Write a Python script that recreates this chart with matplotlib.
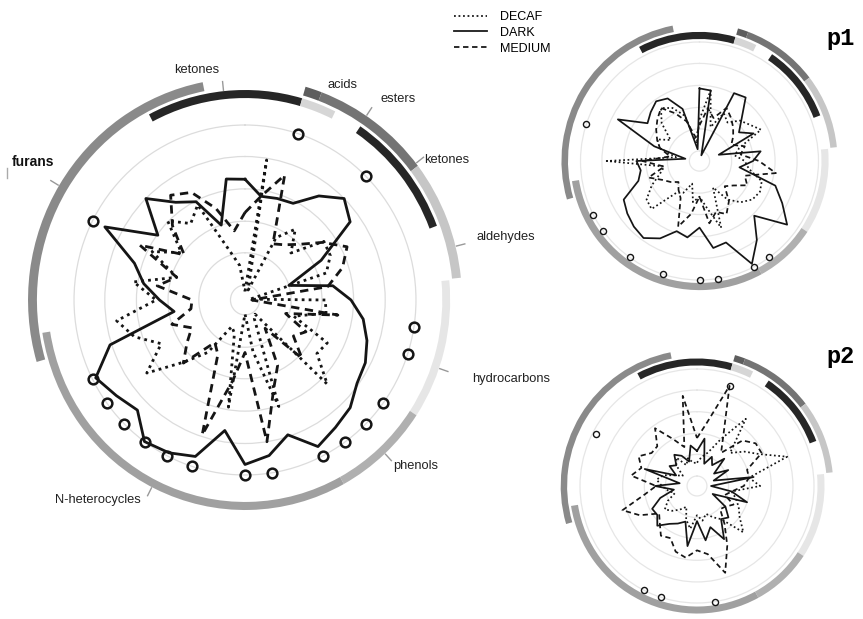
import numpy as np
import matplotlib.pyplot as plt
from matplotlib.lines import Line2D

plt.rcParams['font.family'] = ['Liberation Sans', 'DejaVu Sans']

W, H = 863, 619
N_VARS = 40

# compound groups on the rim, spans in variable-index units
group_label = ['furans', 'acids', 'esters', 'aldehydes', 'ketones', '',
               'ketones', 'hydrocarbons', 'phenols', 'N-heterocycles']
group_start = [28.2, 1.8, 2.3, 5.87, 36.9, 1.8, 3.8, 9.4, 13.7, 16.8]
group_stop = [38.75, 2.3, 5.87, 9.36, 41.8, 2.9, 7.7, 13.7, 16.8, 29.0]
group_track = ['outer'] * 4 + ['inner'] * 6
group_color = ['#8a8a8a', '#5e5e5e', '#747474', '#c6c6c6', '#262626',
               '#d6d6d6', '#262626', '#e6e6e6', '#b0b0b0', '#a0a0a0']

# main profile
main_decaf = [0.05, 0.81, 0.06, 0.40, 0.50, 0.38, 0.57, 0.56, 0.50, 0.03,
              0.47, 0.48, 0.30, 0.54, 0.52, 0.68, 0.10, 0.12, 0.64, 0.30,
              0.08, 0.62, 0.20, 0.17, 0.37, 0.50, 0.71, 0.55, 0.68, 0.76,
              0.52, 0.66, 0.42, 0.61, 0.46, 0.64, 0.54, 0.61, 0.30, 0.20]
main_dark = [0.69, 0.60, 0.61, 0.62, 0.735, 0.82, 0.76, 0.50, 0.27, 0.52,
             0.62, 0.70, 0.75, 0.79, 0.81, 0.87, 0.90, 0.94, 0.81, 0.90,
             0.94, 0.755, 0.94, 0.98, 1.00, 0.89, 0.93, 0.98, 0.83, 0.42,
             0.50, 0.60, 0.68, 0.92, 0.63, 0.82, 0.69, 0.63, 0.45, 0.70]
main_medium = [0.50, 0.60, 0.75, 0.36, 0.39, 0.45, 0.56, 0.67, 0.60, 0.49,
               0.04, 0.55, 0.25, 0.40, 0.35, 0.47, 0.20, 0.42, 0.54, 0.82,
               0.30, 0.47, 0.81, 0.35, 0.30, 0.51, 0.42, 0.35, 0.45, 0.32,
               0.31, 0.52, 0.42, 0.69, 0.44, 0.60, 0.74, 0.69, 0.55, 0.40]
main_marks = [2, 5, 11, 12, 14, 15, 16, 17, 19, 20, 22, 23, 24, 25, 26, 27, 33]
main_mark_r = [1.0] * len(main_marks)

# p1 profile
p1_decaf = [0.35, 0.60, 0.30, 0.45, 0.40, 0.48, 0.52, 0.58, 0.35, 0.30,
            0.38, 0.42, 0.55, 0.57, 0.55, 0.49, 0.40, 0.25, 0.59, 0.40,
            0.30, 0.35, 0.20, 0.30, 0.33, 0.57, 0.55, 0.45, 0.35, 0.30,
            0.78, 0.20, 0.35, 0.40, 0.30, 0.45, 0.55, 0.50, 0.40, 0.15]
p1_dark = [0.61, 0.60, 0.05, 0.64, 0.66, 0.50, 0.41, 0.51, 0.17, 0.52,
           0.45, 0.34, 0.67, 0.78, 0.91, 0.65, 0.82, 0.97, 0.72, 0.74,
           0.56, 0.65, 0.62, 0.73, 0.80, 0.78, 0.75, 0.715, 0.54, 0.50,
           0.53, 0.12, 0.40, 0.77, 0.54, 0.58, 0.62, 0.59, 0.46, 0.10]
p1_medium = [0.30, 0.45, 0.38, 0.50, 0.45, 0.40, 0.35, 0.30, 0.40, 0.35,
             0.50, 0.65, 0.40, 0.45, 0.35, 0.30, 0.42, 0.50, 0.45, 0.53,
             0.30, 0.45, 0.58, 0.35, 0.30, 0.25, 0.30, 0.35, 0.45, 0.30,
             0.48, 0.25, 0.35, 0.40, 0.45, 0.50, 0.55, 0.45, 0.35, 0.20]
p1_marks = [16, 17, 19, 20, 22, 24, 26, 27, 32]
p1_mark_r = [1.0] * len(p1_marks)

# p2 profile
p2_decaf = [0.20, 0.25, 0.30, 0.45, 0.71, 0.40, 0.50, 0.60, 0.81, 0.45,
            0.54, 0.30, 0.35, 0.40, 0.45, 0.56, 0.35, 0.30, 0.25, 0.30,
            0.25, 0.37, 0.30, 0.20, 0.25, 0.30, 0.34, 0.28, 0.20, 0.25,
            0.30, 0.35, 0.30, 0.20, 0.15, 0.25, 0.30, 0.20, 0.25, 0.20]
p2_dark = [0.30, 0.41, 0.20, 0.28, 0.22, 0.33, 0.18, 0.30, 0.15, 0.49,
           0.12, 0.30, 0.45, 0.15, 0.30, 0.38, 0.35, 0.51, 0.37, 0.47,
           0.30, 0.52, 0.32, 0.36, 0.40, 0.48, 0.42, 0.43, 0.33, 0.20,
           0.36, 0.15, 0.47, 0.20, 0.29, 0.25, 0.33, 0.29, 0.22, 0.35]
p2_medium = [0.41, 0.55, 0.90, 0.50, 0.35, 0.55, 0.62, 0.62, 0.45, 0.45,
             0.40, 0.30, 0.25, 0.35, 0.30, 0.28, 0.40, 0.57, 0.78, 0.59,
             0.55, 0.62, 0.59, 0.50, 0.525, 0.45, 0.40, 0.55, 0.67, 0.45,
             0.35, 0.57, 0.50, 0.56, 0.48, 0.48, 0.61, 0.45, 0.35, 0.78]
p2_marks = [2, 19, 22, 23, 33]
p2_mark_r = [0.90, 1.0, 1.0, 1.0, 0.97]

grid_r = [0.085, 0.27, 0.45, 0.635, 0.82, 1.0]
step = 360 / N_VARS
theta = np.deg2rad(np.arange(N_VARS) * step)

DOTTED = (0, (1, 1.5))
DASHED = (0, (3, 2))


def polar_axes(fig, cx, cy, unit, rmax, squash=1.0):
    half_h = rmax * unit
    half_w = half_h * squash
    rect = [(cx - half_w) / W, 1 - (cy + half_h) / H, 2 * half_w / W, 2 * half_h / H]
    ax = fig.add_axes(rect, projection='polar')
    ax.set_theta_zero_location('N')
    ax.set_theta_direction(-1)
    ax.set_aspect('auto')
    ax.set_rlim(0, rmax)
    ax.set_xticks([])
    ax.set_yticks(grid_r)
    ax.set_yticklabels([])
    ax.spines['polar'].set_visible(False)
    ax.patch.set_alpha(0)
    return ax


def draw_panel(ax, decaf, dark, medium, marks, mark_r, tracks, lw, ms, mew, grid_color):
    ax.yaxis.grid(True, color=grid_color, lw=0.9)
    for s, e, trk, col in zip(group_start, group_stop, group_track, group_color):
        r0, r1 = tracks[trk]
        ax.bar(np.deg2rad((s + e) / 2 * step), r1 - r0,
               width=np.deg2rad((e - s) * step), bottom=r0,
               color=col, linewidth=0)
    t = np.append(theta, theta[0])
    ax.plot(t, np.append(decaf, decaf[0]), color='#151515', lw=lw, ls=DOTTED)
    ax.plot(t, np.append(dark, dark[0]), color='#151515', lw=lw, ls='-')
    ax.plot(t, np.append(medium, medium[0]), color='#151515', lw=lw, ls=DASHED)
    ax.plot(theta[marks], mark_r, ls='none', marker='o', ms=ms, mfc='none',
            mec='#151515', mew=mew)


fig = plt.figure(figsize=(W / 100, H / 100), dpi=100)

ax_main = polar_axes(fig, 245, 300, 175, 1.34, squash=0.977)
draw_panel(ax_main, main_decaf, main_dark, main_medium, main_marks, main_mark_r,
           {'inner': (1.154, 1.200), 'outer': (1.217, 1.269)},
           lw=2.0, ms=7, mew=1.8, grid_color='#dcdcdc')

ax_p1 = polar_axes(fig, 699.5, 161, 119, 1.2)
draw_panel(ax_p1, p1_decaf, p1_dark, p1_medium, p1_marks, p1_mark_r,
           {'inner': (1.025, 1.085), 'outer': (1.105, 1.16)},
           lw=1.25, ms=4.4, mew=1.0, grid_color='#e6e6e6')

ax_p2 = polar_axes(fig, 697, 486, 117, 1.2)
draw_panel(ax_p2, p2_decaf, p2_dark, p2_medium, p2_marks, p2_mark_r,
           {'inner': (1.03, 1.09), 'outer': (1.11, 1.165)},
           lw=1.25, ms=4.4, mew=1.0, grid_color='#e6e6e6')

# group names around the main rim: text, pixel position, tick angle, tick start
rim_labels = [('ketones', 197, 70, 354, 1.205),
              ('acids', 342, 85, None, None),
              ('esters', 398, 99, 34, 1.275),
              ('ketones', 447, 160, 52, 1.275),
              ('aldehydes', 506, 237, 76, 1.275),
              ('hydrocarbons', 511, 379, 109, 1.205),
              ('phenols', 416, 466, 137, 1.205),
              ('N-heterocycles', 98, 500, 207, 1.205)]
for text, x, y, tick, r0 in rim_labels:
    fig.text(x / W, 1 - y / H, text, ha='center', va='center', fontsize=9.3,
             color='#222222')
    if tick is not None:
        ax_main.plot([np.deg2rad(tick)] * 2, [r0, r0 + 0.05], color='#999999',
                     lw=1, clip_on=False)
fig.text(33 / W, 1 - 162 / H, 'furans', ha='center', va='center', fontsize=10,
         fontweight='bold', color='#111111')
ax_main.plot([np.deg2rad(301)] * 2, [1.275, 1.325], color='#999999', lw=1, clip_on=False)
fig.add_artist(Line2D([7 / W, 7 / W], [1 - 168 / H, 1 - 178 / H], color='#aaaaaa', lw=1))

fig.text(840 / W, 1 - 38 / H, 'p1', ha='center', va='center', fontsize=17,
         fontweight='bold', family='Liberation Mono')
fig.text(840 / W, 1 - 356 / H, 'p2', ha='center', va='center', fontsize=17,
         fontweight='bold', family='Liberation Mono')

handles = [Line2D([], [], color='#1a1a1a', lw=1.3, ls=DOTTED),
           Line2D([], [], color='#1a1a1a', lw=1.3, ls='-'),
           Line2D([], [], color='#1a1a1a', lw=1.3, ls=DASHED)]
fig.legend(handles, ['DECAF', 'DARK', 'MEDIUM'], loc='upper left',
           bbox_to_anchor=(454 / W, 1 - 11 / H), frameon=False, fontsize=9,
           handlelength=2.6, handletextpad=1.1, labelspacing=0.3,
           borderpad=0, borderaxespad=0)

fig.savefig('out.png', dpi=100)
